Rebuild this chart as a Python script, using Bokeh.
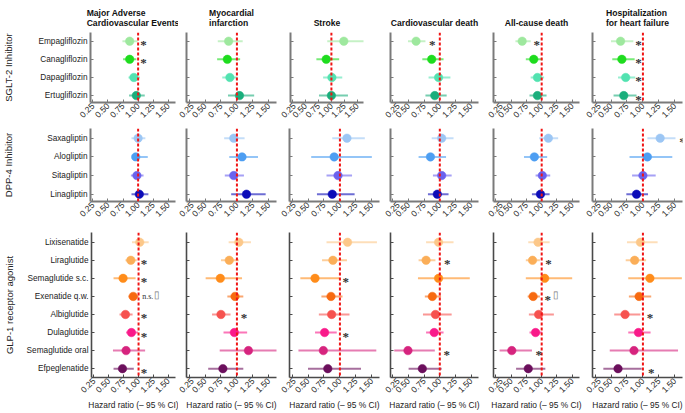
import math

from bokeh.embed import file_html
from bokeh.layouts import column, row
from bokeh.models import ColumnDataSource, FixedTicker, LabelSet, Range1d, Span
from bokeh.plotting import figure
from bokeh.resources import INLINE

# ---------------------------------------------------------------- data
endpoints = ["mace", "mi", "stroke", "cvd", "acd", "hhf"]
endpoint_titles = [
    "Major Adverse\nCardiovascular Events",
    "Myocardial\ninfarction",
    "Stroke",
    "Cardiovascular death",
    "All-cause death",
    "Hospitalization\nfor heart failure",
]
x_ticks = [0.25, 0.50, 0.75, 1.00, 1.25, 1.50]
x_tick_labels = ["0.25", "0.50", "0.75", "1.00", "1.25", "1.50"]
x_axis_title = "Hazard ratio (\u2013 95 % CI)"

group_names = ["SGLT-2 Inhibitor", "DPP-4 Inhibitor", "GLP-1 receptor agonist"]

sglt2_drugs = ["Empagliflozin", "Canagliflozin", "Dapagliflozin", "Ertugliflozin"]
dpp4_drugs = ["Saxagliptin", "Alogliptin", "Sitagliptin", "Linagliptin"]
glp1_drugs = ["Lixisenatide", "Liraglutide", "Semaglutide s.c.", "Exenatide q.w.",
              "Albiglutide", "Dulaglutide", "Semaglutide oral", "Efpeglenatide"]

# (hazard ratio, lower 95 % CI, upper 95 % CI) per drug
sglt2_mace = [(0.86, 0.74, 0.99), (0.86, 0.75, 0.97), (0.93, 0.84, 1.03), (0.97, 0.85, 1.11)]
sglt2_mi = [(0.87, 0.70, 1.09), (0.85, 0.69, 1.05), (0.89, 0.77, 1.01), (1.04, 0.86, 1.27)]
sglt2_stroke = [(1.24, 0.92, 1.67), (0.90, 0.71, 1.15), (1.01, 0.84, 1.21), (1.00, 0.76, 1.32)]
sglt2_cvd = [(0.62, 0.49, 0.77), (0.87, 0.72, 1.06), (0.98, 0.82, 1.17), (0.92, 0.77, 1.11)]
sglt2_acd = [(0.68, 0.57, 0.82), (0.87, 0.74, 1.01), (0.93, 0.82, 1.04), (0.93, 0.80, 1.08)]
sglt2_hhf = [(0.65, 0.50, 0.85), (0.67, 0.52, 0.87), (0.73, 0.61, 0.88), (0.70, 0.54, 0.90)]

dpp4_mace = [(1.00, 0.89, 1.12), (0.96, 0.91, 1.16), (0.98, 0.88, 1.09), (1.02, 0.89, 1.17)]
dpp4_mi = [(0.95, 0.80, 1.12), (1.08, 0.88, 1.33), (0.95, 0.81, 1.11), (1.15, 0.91, 1.45)]
dpp4_stroke = [(1.11, 0.88, 1.39), (0.91, 0.55, 1.50), (0.97, 0.79, 1.19), (0.88, 0.64, 1.23)]
dpp4_cvd = [(1.03, 0.87, 1.22), (0.85, 0.66, 1.10), (1.03, 0.89, 1.19), (0.96, 0.81, 1.14)]
dpp4_acd = [(1.11, 0.96, 1.27), (0.88, 0.71, 1.09), (1.01, 0.90, 1.14), (0.98, 0.84, 1.13)]
dpp4_hhf = [(1.27, 1.07, 1.51), (1.07, 0.79, 1.46), (1.00, 0.83, 1.20), (0.90, 0.74, 1.08)]

glp1_mace = [(1.02, 0.89, 1.17), (0.87, 0.78, 0.97), (0.74, 0.58, 0.95), (0.91, 0.83, 1.00),
             (0.78, 0.68, 0.90), (0.88, 0.79, 0.99), (0.79, 0.57, 1.11), (0.73, 0.58, 0.92)]
glp1_mi = [(1.03, 0.87, 1.22), (0.88, 0.75, 1.03), (0.74, 0.51, 1.08), (0.97, 0.85, 1.10),
           (0.75, 0.61, 0.90), (0.96, 0.79, 1.16), (1.18, 0.73, 1.90), (0.78, 0.55, 1.10)]
glp1_stroke = [(1.12, 0.79, 1.58), (0.89, 0.72, 1.11), (0.61, 0.38, 0.99), (0.86, 0.71, 1.04),
               (0.87, 0.67, 1.15), (0.76, 0.61, 0.95), (0.74, 0.35, 1.57), (0.81, 0.50, 1.33)]
glp1_cvd = [(0.98, 0.78, 1.22), (0.78, 0.66, 0.93), (0.98, 0.65, 1.48), (0.88, 0.76, 1.02),
            (0.93, 0.73, 1.19), (0.91, 0.78, 1.06), (0.49, 0.27, 0.92), (0.72, 0.50, 1.03)]
glp1_acd = [(0.94, 0.78, 1.13), (0.85, 0.74, 0.97), (1.05, 0.74, 1.50), (0.86, 0.77, 0.97),
            (0.95, 0.79, 1.20), (0.90, 0.80, 1.01), (0.51, 0.31, 0.84), (0.78, 0.58, 1.06)]
glp1_hhf = [(0.96, 0.75, 1.23), (0.87, 0.73, 1.05), (1.11, 0.77, 1.61), (0.94, 0.78, 1.13),
            (0.72, 0.55, 0.96), (0.93, 0.77, 1.12), (0.86, 0.48, 1.55), (0.61, 0.38, 0.98)]

# significance marks: (drug index, x position, text)
sglt2_marks = {
    "mace": [(0, 1.09, "*"), (1, 1.09, "*")],
    "cvd": [(0, 0.88, "*")],
    "acd": [(0, 0.92, "*")],
    "hhf": [(0, 0.93, "*"), (1, 0.93, "*"), (2, 0.93, "*"), (3, 0.93, "*")],
}
dpp4_marks = {
    "hhf": [(0, 1.62, "*")],
}
glp1_marks = {
    "mace": [(1, 1.09, "*"), (2, 1.09, "*"), (4, 1.09, "*"), (5, 1.09, "*"), (7, 1.09, "*")],
    "mi": [(4, 1.11, "*")],
    "stroke": [(2, 1.09, "*"), (5, 1.09, "*")],
    "cvd": [(1, 1.12, "*"), (6, 1.11, "*")],
    "acd": [(1, 1.11, "*"), (3, 1.10, "*"), (6, 0.95, "*")],
    "hhf": [(4, 1.11, "*"), (7, 1.13, "*")],
}
# "not significant" notes: (drug index, x position, text)
glp1_notes = {"mace": [(3, 1.06, "n.s.")]}
glp1_boxes = {"mace": [(3, 1.31)], "acd": [(3, 1.23)]}

sglt2_colors = ["#9ee89e", "#1edc1e", "#52e2b0", "#1aae7c"]
dpp4_colors = ["#9cc6f4", "#4d9ef2", "#6a62ee", "#0c0cb8"]
glp1_colors = ["#fcc88a", "#fbae58", "#ff8c1a", "#f76a10",
               "#f6524f", "#f91a8a", "#d6247e", "#6b0f5c"]

groups = [
    (sglt2_drugs, sglt2_colors,
     [sglt2_mace, sglt2_mi, sglt2_stroke, sglt2_cvd, sglt2_acd, sglt2_hhf], sglt2_marks, {}, {}),
    (dpp4_drugs, dpp4_colors,
     [dpp4_mace, dpp4_mi, dpp4_stroke, dpp4_cvd, dpp4_acd, dpp4_hhf], dpp4_marks, {}, {}),
    (glp1_drugs, glp1_colors,
     [glp1_mace, glp1_mi, glp1_stroke, glp1_cvd, glp1_acd, glp1_hhf], glp1_marks, glp1_notes, glp1_boxes),
]

# ---------------------------------------------------------------- layout
FONT = "Liberation Sans"
TEXT = "#222222"
AXIS_COLORS = ["#7a7a7a", "#7a7a7a", "#4a4a4a"]
AXIS_WIDTHS = [2, 2, 1.6]
X_RANGE = (0.21, 1.62)

col_bounds = [0, 178, 280, 384, 487, 585, 685]
frames_x = [
    [(86, 175), (186, 276), (290, 363), (390, 478), (493, 579), (592, 682)],
    [(86, 175), (186, 276), (289, 379), (390, 478), (493, 579), (592, 682)],
    [(86, 175), (186, 276), (289, 379), (390, 478), (493, 579), (592, 682)],
]
# (canvas top, frame top, frame bottom, canvas bottom)
rows_y = [(0, 30, 102, 127), (127, 128, 201, 226), (226, 232, 380, 413)]
y_pads = [(0.38, 0.48), (0.39, 0.52), (0.49, 0.54)]
group_label_standoff = [21, 30, 9]


def make_panel(gi, ci):
    drugs, colors, series, marks, notes, boxes = groups[gi]
    n = len(drugs)
    c0, ft, fb, c1 = rows_y[gi]
    fl, fr = frames_x[gi][ci]
    b0, b1 = col_bounds[ci], col_bounds[ci + 1]
    pad_lo, pad_hi = y_pads[gi]
    axis_color = AXIS_COLORS[gi]
    axis_width = AXIS_WIDTHS[gi]

    p = figure(
        width=b1 - b0, height=c1 - c0,
        min_border_left=fl - b0, min_border_right=b1 - fr,
        min_border_top=ft - c0, min_border_bottom=c1 - fb,
        x_range=Range1d(*X_RANGE), y_range=Range1d(-pad_lo, n - 1 + pad_hi),
        output_backend="svg", toolbar_location=None,
    )
    if gi == 0:
        p.title.text = endpoint_titles[ci]
        p.title.align = "center"
        p.title.text_font = FONT
        p.title.text_font_size = "8.6px"
        p.title.text_font_style = "bold"
        p.title.text_color = "#111111"
        p.title.text_line_height = 1.05
        p.title.standoff = 9
    else:
        p.title = None

    p.outline_line_color = None
    p.grid.visible = False
    p.background_fill_color = "white"
    p.border_fill_color = "white"

    ypos = [n - 1 - i for i in range(n)]
    data = series[ci]
    src = ColumnDataSource(dict(
        y=ypos,
        hr=[d[0] for d in data],
        lo=[d[1] for d in data],
        hi=[d[2] for d in data],
        color=colors,
    ))
    p.segment(x0="lo", y0="y", x1="hi", y1="y", source=src,
              line_color="color", line_width=2, line_alpha=0.6)
    p.scatter(x="hr", y="y", source=src, size=8.5, fill_color="color",
              line_color="color", line_width=0.5)

    p.add_layout(Span(location=1.0, dimension="height", line_color="#f01414",
                      line_width=2, line_dash="3 2"))

    key = endpoints[ci]
    if key in marks:
        ms = marks[key]
        p.add_layout(LabelSet(
            source=ColumnDataSource(dict(x=[m[1] for m in ms], y=[ypos[m[0]] for m in ms],
                                         t=[m[2] for m in ms])),
            x="x", y="y", text="t", text_align="center", text_baseline="middle",
            y_offset=-3.5, text_font=FONT, text_font_size="13px",
            text_font_style="bold", text_color="#333333"))
    if key in notes:
        ns = notes[key]
        p.add_layout(LabelSet(
            source=ColumnDataSource(dict(x=[m[1] for m in ns], y=[ypos[m[0]] for m in ns],
                                         t=[m[2] for m in ns])),
            x="x", y="y", text="t", text_align="left", text_baseline="middle",
            text_font=FONT, text_font_size="8px", text_color="#333333"))
    if key in boxes:
        bs = boxes[key]
        p.add_layout(LabelSet(
            source=ColumnDataSource(dict(x=[m[1] for m in bs], y=[ypos[m[0]] for m in bs],
                                         t=["\u25af"] * len(bs))),
            x="x", y="y", text="t", text_align="center", text_baseline="middle",
            y_offset=2, text_font="DejaVu Sans", text_font_size="10px",
            text_color="#777777"))

    # x axis
    xa = p.xaxis[0]
    xa.ticker = FixedTicker(ticks=x_ticks)
    xa.major_label_overrides = dict(zip(x_ticks, x_tick_labels))
    xa.major_label_orientation = math.pi / 4
    xa.major_label_text_font = FONT
    xa.major_label_text_font_size = "8.5px"
    xa.major_label_text_color = TEXT
    xa.major_label_standoff = 2
    xa.axis_line_color = axis_color
    xa.axis_line_width = axis_width
    xa.major_tick_line_color = axis_color
    xa.major_tick_in = 3
    xa.major_tick_out = 0
    xa.minor_tick_line_color = None
    if gi == 2:
        xa.axis_label = x_axis_title
        xa.axis_label_text_font = FONT
        xa.axis_label_text_font_size = "8.4px"
        xa.axis_label_text_font_style = "normal"
        xa.axis_label_text_color = TEXT
        xa.axis_label_standoff = 2

    # y axis: drug names on the first column only, bare ticks elsewhere
    ya = p.yaxis[0]
    ya.ticker = FixedTicker(ticks=ypos)
    ya.axis_line_color = axis_color
    ya.axis_line_width = axis_width
    ya.major_tick_line_color = axis_color
    ya.major_tick_in = 3
    ya.major_tick_out = 0
    ya.minor_tick_line_color = None
    if ci == 0:
        ya.major_label_overrides = {pos: name for pos, name in zip(ypos, drugs)}
        ya.major_label_text_font = FONT
        ya.major_label_text_font_size = "8.25px"
        ya.major_label_text_color = TEXT
        ya.major_label_standoff = 3
        ya.axis_label = group_names[gi]
        ya.axis_label_text_font = FONT
        ya.axis_label_text_font_size = "9.5px"
        ya.axis_label_text_font_style = "normal"
        ya.axis_label_text_color = TEXT
        ya.axis_label_standoff = group_label_standoff[gi]
    else:
        ya.major_label_overrides = {pos: "" for pos in ypos}
        ya.major_label_standoff = 0
    return p


rows = []
for gi in range(3):
    rows.append(row(*[make_panel(gi, ci) for ci in range(6)], spacing=0))

layout = column(*rows, spacing=0)

with open("out.html", "w") as f:
    f.write(file_html(layout, INLINE))
